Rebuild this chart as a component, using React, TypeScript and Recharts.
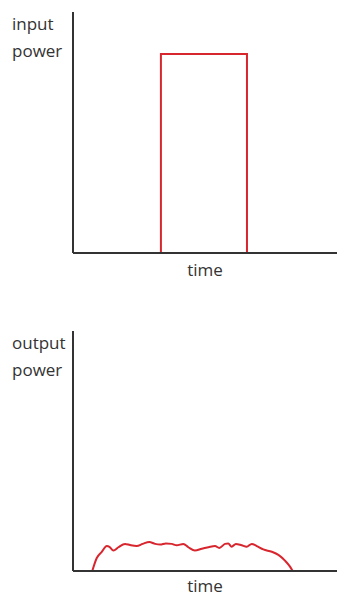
import React from 'react';
import { LineChart, Line, XAxis, YAxis } from 'recharts';

// input pulse (time, power)
const inputTime = [33.3, 33.3, 65.9, 65.9];
const inputPower = [0, 82.6, 82.6, 0];

// output response
const outputTime = [
  7.3, 9.0, 10.9, 12.8, 13.8, 15.3, 17.2, 19.7, 21.6, 24.1, 26.4, 28.9, 31.1, 33.0, 35.2, 37.4, 39.3,
  41.8, 43.7, 46.2, 48.8, 51.3, 53.8, 55.4, 57.6, 58.8, 60.1, 61.7, 63.9, 65.8, 67.7, 69.6, 72.1, 75.3,
  77.8, 80.3, 82.2, 83.2,
];
const outputPower = [
  0, 5.4, 8.0, 10.4, 10.1, 8.5, 9.9, 11.3, 10.8, 10.4, 11.3, 12.1, 11.3, 11.0, 11.5, 11.3, 10.7, 11.3,
  9.9, 8.5, 9.3, 9.9, 10.4, 9.6, 11.3, 11.5, 10.1, 11.3, 10.7, 10.1, 11.3, 10.4, 9.0, 8.0, 6.7, 4.3,
  1.8, 0,
];

const inputData = inputTime.map((t, i) => ({ t, p: inputPower[i] }));
const outputData = outputTime.map((t, i) => ({ t, p: outputPower[i] }));

const RED = '#d8262f';
const AXIS = '#333';
const font = { fontFamily: 'Open Sans', fontSize: 17, fill: '#333' };

const yLabel = (first: string, second: string, dy1: number) => (props: any) => {
  const { x, y } = props.viewBox;
  return (
    <text x={12} y={y + dy1} {...font}>
      <tspan x={12}>{first}</tspan>
      <tspan x={12} dy={27}>{second}</tspan>
    </text>
  );
};

const xLabel = (dy: number) => (props: any) => {
  const { x, y, width } = props.viewBox;
  return (
    <text x={x + width / 2} y={y + dy} textAnchor="middle" {...font}>
      time
    </text>
  );
};

interface PanelProps {
  data: { t: number; p: number }[];
  height: number;
  top: number;
  bottom: number;
  label: string;
  yDy: number;
  xDy: number;
  curve: 'linear' | 'monotone';
}

const Panel: React.FC<PanelProps> = ({ data, height, top, bottom, label, yDy, xDy, curve }) => (
  <LineChart width={337} height={height} data={data} margin={{ top, right: 0, left: 72, bottom }}>
    <XAxis
      dataKey="t"
      type="number"
      domain={[0, 100]}
      height={1}
      tick={false}
      tickLine={false}
      axisLine={{ stroke: AXIS, strokeWidth: 2 }}
      label={{ content: xLabel(xDy) }}
    />
    <YAxis
      type="number"
      domain={[0, 100]}
      width={1}
      tick={false}
      tickLine={false}
      axisLine={{ stroke: AXIS, strokeWidth: 2 }}
      label={{ content: yLabel(label, 'power', yDy) }}
    />
    <Line
      type={curve}
      dataKey="p"
      stroke={RED}
      strokeWidth={2}
      dot={false}
      isAnimationActive={false}
    />
  </LineChart>
);

export default function App() {
  return (
    <div style={{ position: 'absolute', left: 0, top: 0, width: 337, height: 598, background: '#fff' }}>
      <Panel data={inputData} height={300} top={12} bottom={46} label="input" yDy={18} xDy={23} curve="linear" />
      <Panel data={outputData} height={298} top={31} bottom={26} label="output" yDy={18} xDy={21} curve="monotone" />
    </div>
  );
}
